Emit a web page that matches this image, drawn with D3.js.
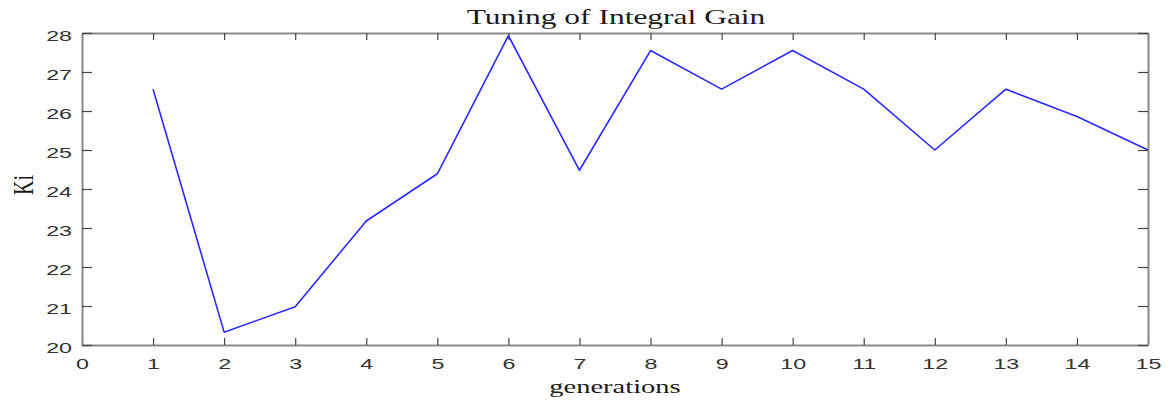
<!DOCTYPE html>
<html>
<head>
<meta charset="utf-8">
<script src="https://cdn.jsdelivr.net/npm/d3@7"></script>
<style>
  html, body { margin: 0; padding: 0; background: #fff; }
  svg { display: block; }
</style>
</head>
<body>
<svg id="chart" width="1169" height="403"></svg>
<script>
// Integral gain Ki found at each generation of the tuning run
const generations = [1, 2, 3, 4, 5, 6, 7, 8, 9, 10, 11, 12, 13, 14, 15];
const kiValues = [26.56, 20.33, 20.98, 23.18, 24.39, 27.93, 24.48, 27.55, 26.56, 27.55, 26.56, 25.0, 26.56, 25.86, 25.0];
const xTicks = [0, 1, 2, 3, 4, 5, 6, 7, 8, 9, 10, 11, 12, 13, 14, 15];
const yTicks = [20, 21, 22, 23, 24, 25, 26, 27, 28];

const titleText = "Tuning of Integral Gain";
const xLabelText = "generations";
const yLabelText = "Ki";

const W = 1169, H = 403;
const margin = { left: 82, right: 21, top: 33, bottom: 58 };
const SX = 1.5; // horizontal text stretch of the figure

const svg = d3.select("#chart");

const x = d3.scaleLinear().domain([0, 15]).range([margin.left, W - margin.right]);
const y = d3.scaleLinear().domain([20, 28]).range([H - margin.bottom, margin.top]);

const axisColor = "#8a8a8a";
const tickColor = "#444";
const labelColor = "#333";
const tickFont = "'Liberation Sans', Arial, sans-serif";
const serifFont = "'Liberation Serif', 'Times New Roman', serif";

function styleAxis(g) {
  g.select(".domain").attr("stroke", axisColor).attr("stroke-width", 2);
  g.selectAll(".tick line").attr("stroke", tickColor).attr("stroke-width", 1.2);
}

// bottom axis with labels
const gx = svg.append("g")
  .attr("transform", `translate(0,${y(20)})`)
  .call(d3.axisBottom(x).tickValues(xTicks).tickSizeInner(-7).tickSizeOuter(0).tickFormat(d3.format("d")));
styleAxis(gx);
gx.selectAll(".tick text")
  .attr("y", 0).attr("dy", 0)
  .attr("transform", `translate(0,24) scale(${SX},1)`)
  .attr("fill", labelColor)
  .style("font-family", tickFont).style("font-size", "15.5px");

// top axis (box)
const gxt = svg.append("g")
  .attr("transform", `translate(0,${y(28)})`)
  .call(d3.axisTop(x).tickValues(xTicks).tickSizeInner(-7).tickSizeOuter(0).tickFormat(""));
styleAxis(gxt);

// left axis with labels
const gy = svg.append("g")
  .attr("transform", `translate(${x(0)},0)`)
  .call(d3.axisLeft(y).tickValues(yTicks).tickSizeInner(-10).tickSizeOuter(0).tickFormat(d3.format("d")));
styleAxis(gy);
gy.selectAll(".tick text")
  .attr("x", 0).attr("dy", 0)
  .attr("text-anchor", "end")
  .attr("transform", `translate(-10,7.5) scale(${SX},1)`)
  .attr("fill", labelColor)
  .style("font-family", tickFont).style("font-size", "15.5px");

// right axis (box)
const gyr = svg.append("g")
  .attr("transform", `translate(${x(15)},0)`)
  .call(d3.axisRight(y).tickValues(yTicks).tickSizeInner(-10).tickSizeOuter(0).tickFormat(""));
styleAxis(gyr);

// Ki curve
const line = d3.line()
  .x((d, i) => x(generations[i]))
  .y(d => y(d));

svg.append("path")
  .datum(kiValues)
  .attr("fill", "none")
  .attr("stroke", "#2a2aff")
  .attr("stroke-width", 1.6)
  .attr("stroke-linejoin", "round")
  .attr("d", line);

// title
svg.append("text")
  .attr("transform", `translate(616,24) scale(${SX},1)`)
  .attr("text-anchor", "middle")
  .attr("fill", "#1a1a1a")
  .style("font-family", serifFont).style("font-size", "21px")
  .text(titleText);

// x axis label
svg.append("text")
  .attr("transform", `translate(615,393) scale(${SX},1)`)
  .attr("text-anchor", "middle")
  .attr("fill", "#1a1a1a")
  .style("font-family", serifFont).style("font-size", "19px")
  .text(xLabelText);

// y axis label
svg.append("text")
  .attr("transform", `translate(33,185) scale(${SX},1) rotate(-90)`)
  .attr("text-anchor", "middle")
  .attr("fill", "#1a1a1a")
  .style("font-family", serifFont).style("font-size", "20px")
  .text(yLabelText);
</script>
</body>
</html>
